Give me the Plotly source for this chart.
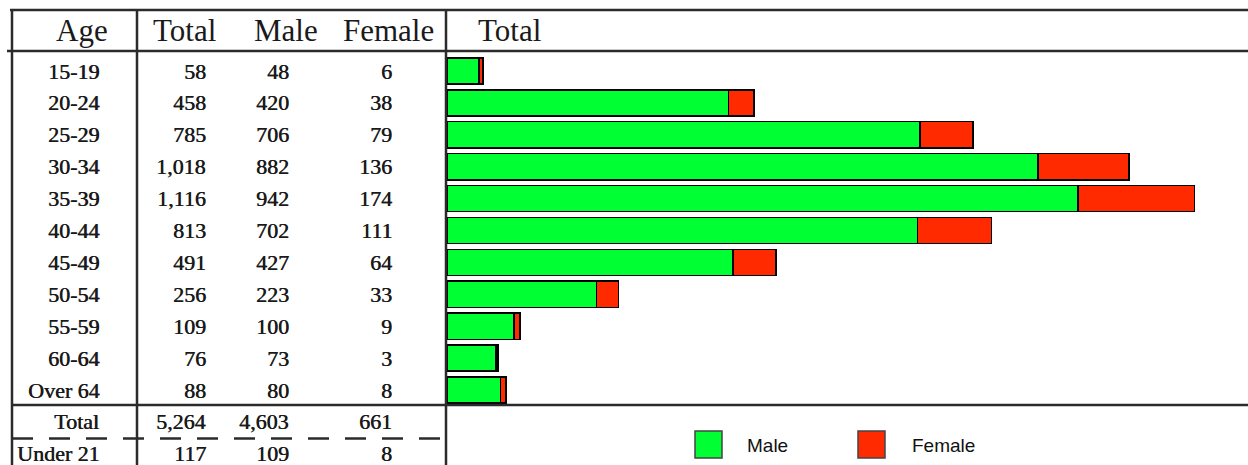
import plotly.graph_objects as go

ages = ["15-19", "20-24", "25-29", "30-34", "35-39", "40-44", "45-49", "50-54", "55-59", "60-64", "Over 64"]
total = [58, 458, 785, 1018, 1116, 813, 491, 256, 109, 76, 88]
male = [48, 420, 706, 882, 942, 702, 427, 223, 100, 73, 80]
female = [6, 38, 79, 136, 174, 111, 64, 33, 9, 3, 8]
summary_labels = ["Total", "Under 21"]
summary_total = [5264, 117]
summary_male = [4603, 109]
summary_female = [661, 8]
headers = ["Age", "Total", "Male", "Female"]

W, H = 1248, 465
GREEN = "#00FF33"
RED = "#FF2A00"
LINE = "#2b2b2b"
TXT = "#1a1a1a"
SERIF = "Liberation Serif, Times New Roman, serif"

def px(x):
    return x / W

def py(y):
    return 1 - y / H

fig = go.Figure()

fig.add_trace(go.Bar(y=ages, x=male, orientation="h", name="Male",
                     marker=dict(color=GREEN, line=dict(color="black", width=1.5)),
                     width=0.82, showlegend=False))
fig.add_trace(go.Bar(y=ages, x=female, orientation="h", name="Female",
                     marker=dict(color=RED, line=dict(color="black", width=1.5)),
                     width=0.82, showlegend=False))

top_px, bot_px = 55, 406
x0_px = 447
scale = 0.67  # px per unit
fig.update_layout(
    width=W, height=H, barmode="stack",
    margin=dict(l=0, r=0, t=0, b=0),
    paper_bgcolor="white", plot_bgcolor="white",
    xaxis=dict(domain=[px(x0_px), 1], range=[0, (W - x0_px) / scale],
               visible=False, showgrid=False, zeroline=False),
    yaxis=dict(domain=[py(bot_px), py(top_px)], range=[len(ages) - 0.5, -0.5],
               type="category", visible=False, showgrid=False),
)

shapes = []
def line(x0, y0, x1, y1, w=2.5, dash=None):
    d = dict(type="line", xref="paper", yref="paper",
             x0=px(x0), y0=py(y0), x1=px(x1), y1=py(y1),
             line=dict(color=LINE, width=w))
    if dash:
        d["line"]["dash"] = dash
    shapes.append(d)

line(10, 10, W, 10)
line(7, 51, W, 51)
line(12, 405, W, 405)
line(12, 438.5, 446, 438.5, w=2.5, dash="21px,16px")
for xv in (12, 137, 446):
    line(xv, 10, xv, H)

# legend boxes
for (xl, col) in ((695, GREEN), (858, RED)):
    shapes.append(dict(type="rect", xref="paper", yref="paper",
                       x0=px(xl), x1=px(xl + 27), y0=py(458), y1=py(431),
                       fillcolor=col, line=dict(color="#444", width=1.5)))

annotations = []
def text(x, y, s, size, anchor="center", font=SERIF, color=TXT, shadow=None):
    f = dict(family=font, size=size, color=color)
    if shadow:
        f["shadow"] = shadow
    annotations.append(dict(xref="paper", yref="paper", x=px(x), y=py(y), text=s,
                            showarrow=False, xanchor=anchor, yanchor="middle",
                            font=f))

hdr_x = [82, 184, 286, 388]
for hx, h in zip(hdr_x, headers):
    text(hx, 31, h, 31)
text(476, 31, "Total", 31, anchor="left")

row_y0, row_dy = 71, 31.9
col_r = [101, 208, 291, 394]
THICK = "0.6px 0px 0px #1a1a1a"
def fmt(v):
    return f"{v:,}"
for i, a in enumerate(ages):
    y = row_y0 + i * row_dy
    vals = [a, fmt(total[i]), fmt(male[i]), fmt(female[i])]
    for cx, v in zip(col_r, vals):
        text(cx, y, v, 22, anchor="right", shadow=THICK)

sum_y = [421, 453]
for j, lab in enumerate(summary_labels):
    vals = [lab, fmt(summary_total[j]), fmt(summary_male[j]), fmt(summary_female[j])]
    for cx, v in zip(col_r, vals):
        text(cx, sum_y[j], v, 22, anchor="right", shadow=THICK)

text(745, 445, "Male", 19, anchor="left", font="Liberation Sans, Arial, sans-serif", color="#111")
text(910, 445, "Female", 19, anchor="left", font="Liberation Sans, Arial, sans-serif", color="#111")

fig.update_layout(shapes=shapes, annotations=annotations)
fig.write_html("out.html", config={"displayModeBar": False},
               post_script="document.body.style.margin='0px';document.body.style.padding='0px';")
